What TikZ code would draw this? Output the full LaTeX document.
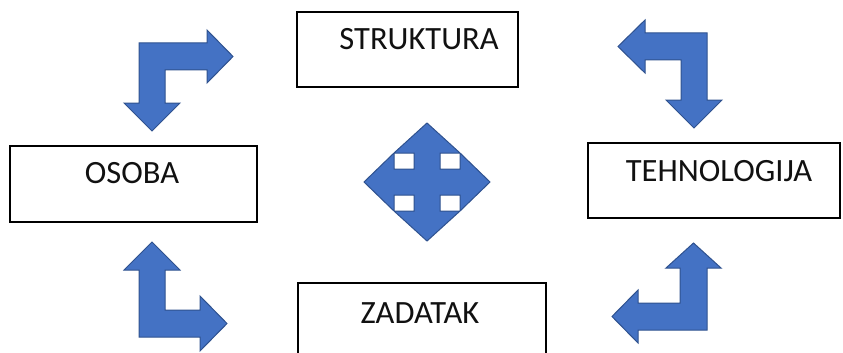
\documentclass[tikz,border=0pt]{standalone}
\usepackage{fontspec}
\setmainfont{Carlito}
\definecolor{arrfill}{HTML}{4472C4}
\definecolor{arrline}{HTML}{2F528F}
\definecolor{txtc}{HTML}{111111}
\begin{document}
\begin{tikzpicture}[x=1pt,y=-1pt,
  box/.style={draw=black, line width=1.2pt, fill=white, inner sep=0pt},
  lbl/.style={anchor=base, inner sep=0pt, text=txtc, font=\fontsize{32.5}{38}\selectfont},
  blockarrow/.style={fill=arrfill, draw=arrline, line width=1pt, line join=miter}]
\useasboundingbox (0,0) rectangle (843,353);
\clip (0,0) rectangle (843,353);
% boxes
\node[box, minimum width=221pt, minimum height=75pt] (struktura) at (407.5,49.5) {};
\node[box, minimum width=247pt, minimum height=76pt] (osoba) at (133.5,184) {};
\node[box, minimum width=252pt, minimum height=75pt] (tehnologija) at (714,180.5) {};
\node[box, minimum width=248pt, minimum height=75pt] (zadatak) at (422,320.5) {};
% labels
\node[lbl] (tstruktura) at (419,50) {STRUKTURA};
\node[lbl] (tosoba) at (132,183.5) {OSOBA};
\node[lbl] (ttehnologija) at (719,181.5) {TEHNOLOGIJA};
\node[lbl] (tzadatak) at (420,323) {ZADATAK};
% top-left bent arrow
\draw[blockarrow] (139,43) -- (207,43) -- (207,30) -- (233,56.5) -- (207,83) -- (207,70)
  -- (165,70) -- (165,103) -- (180,103) -- (152,131) -- (124,103) -- (139,103) -- cycle;
% top-right bent arrow
\draw[blockarrow] (707,33) -- (645,33) -- (645,20) -- (618,46.5) -- (645,73) -- (645,60)
  -- (681,60) -- (681,100) -- (666,100) -- (694,128) -- (722,100) -- (707,100) -- cycle;
% bottom-left bent arrow
\draw[blockarrow] (139,270) -- (124,270) -- (152,242) -- (180,270) -- (165,270) -- (165,310)
  -- (200,310) -- (200,296) -- (227,323.5) -- (200,351) -- (200,337) -- (139,337) -- cycle;
% bottom-right bent arrow
\draw[blockarrow] (707,330) -- (638,330) -- (638,343) -- (612,316.5) -- (638,290) -- (638,303)
  -- (680,303) -- (680,268) -- (666,268) -- (693.5,243) -- (721,268) -- (707,268) -- cycle;
% central quad arrow
\begin{scope}[shift={(427,182)}]
\draw[blockarrow] (0,-59) -- (33,-29) -- (13,-29) -- (13,-13) -- (33,-13) -- (33,-29)
  -- (63,0) -- (33,29) -- (33,13) -- (13,13) -- (13,29) -- (33,29)
  -- (0,59) -- (-33,29) -- (-13,29) -- (-13,13) -- (-33,13) -- (-33,29)
  -- (-63,0) -- (-33,-29) -- (-33,-13) -- (-13,-13) -- (-13,-29) -- (-33,-29) -- cycle;
\end{scope}
\end{tikzpicture}
\end{document}
